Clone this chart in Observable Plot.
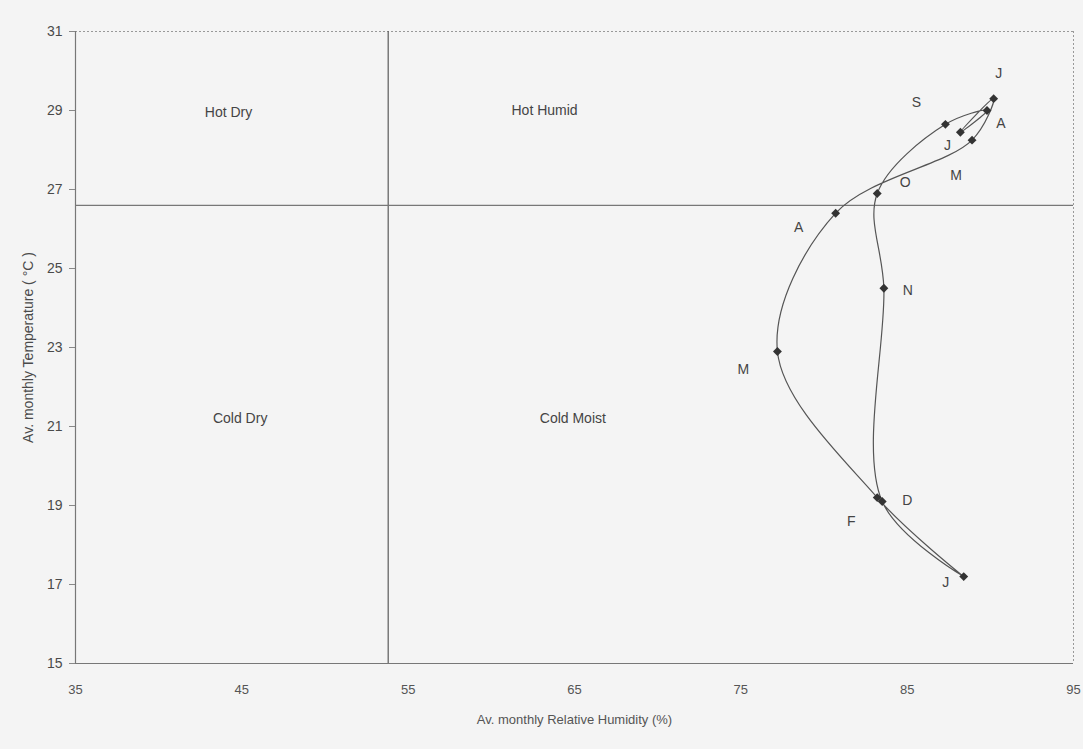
<!DOCTYPE html>
<html>
<head>
<meta charset="utf-8">
<script src="https://cdn.jsdelivr.net/npm/d3@7"></script>
<script src="https://cdn.jsdelivr.net/npm/@observablehq/plot@0.6"></script>
<style>
  html, body { margin: 0; padding: 0; background: #f4f4f4; }
  #chart svg { display: block; }
</style>
</head>
<body>
<div id="chart"></div>
<script>
// Monthly climate data (Jan..Dec)
const months = ["Jan", "Feb", "Mar", "Apr", "May", "Jun", "Jul", "Aug", "Sep", "Oct", "Nov", "Dec"];
const monthLetters = ["J", "F", "M", "A", "M", "J", "J", "A", "S", "O", "N", "D"];
const humidity = [88.4, 83.2, 77.2, 80.7, 88.9, 90.2, 88.2, 89.8, 87.3, 83.2, 83.6, 83.5];
const temperature = [17.2, 19.2, 22.9, 26.4, 28.25, 29.3, 28.45, 29.0, 28.65, 26.9, 24.5, 19.1];

// Tick values
const xTicks = [35, 45, 55, 65, 75, 85, 95];
const yTicks = [15, 17, 19, 21, 23, 25, 27, 29, 31];

// Quadrant boundaries
const humidityDivider = 53.8;
const temperatureDivider = 26.6;

// Quadrant names
const zoneNames = ["Hot Dry", "Hot Humid", "Cold Dry", "Cold Moist"];
const zoneX = [44.2, 63.2, 44.9, 64.9];
const zoneY = [28.95, 29.0, 21.2, 21.2];

// Label offsets (px) for month letters
const labelOffsets = [[-18, 6], [-26, 24], [-34, 18], [-37, 14], [-16, 35], [5, -25],
                      [-13, 13], [14, 13], [-29, -22], [28, -11], [24, 2], [25, -1]];

const points = months.map((m, i) => ({month: m, letter: monthLetters[i], rh: humidity[i], t: temperature[i]}));
const loop = [...points, points[0]];

const font = "Liberation Sans, Arial, sans-serif";
const ink = "#555";

const monthLabelMarks = points.map((p, i) => Plot.text([p], {
  x: "rh", y: "t", text: "letter",
  dx: labelOffsets[i][0], dy: labelOffsets[i][1],
  fontSize: 14, fill: "#444"
}));

const chart = Plot.plot({
  width: 1083,
  height: 749,
  marginLeft: 75,
  marginRight: 10,
  marginTop: 31,
  marginBottom: 86,
  style: {background: "#f4f4f4", fontFamily: font, color: ink},
  x: {domain: [35, 95]},
  y: {domain: [15, 31]},
  marks: [
    // frame: solid left/bottom, dotted top/right
    Plot.ruleY([31], {stroke: "#999", strokeDasharray: "2,2"}),
    Plot.ruleX([95], {stroke: "#999", strokeDasharray: "2,2"}),
    Plot.ruleX([35], {stroke: "#777", strokeWidth: 1.2}),
    Plot.ruleY([15], {stroke: "#777", strokeWidth: 1.2}),
    // quadrant dividers
    Plot.ruleX([humidityDivider], {stroke: "#666", strokeWidth: 1.3}),
    Plot.ruleY([temperatureDivider], {stroke: "#777", strokeWidth: 1.2}),
    Plot.axisX({ticks: xTicks, tickSize: 0, tickPadding: 21, fontSize: 13, fill: "#555",
      label: "Av. monthly Relative Humidity (%)", labelAnchor: "center", labelArrow: "none", labelOffset: 60}),
    Plot.axisY({ticks: yTicks, tickSize: 6, tickPadding: 7, fontSize: 14, fill: "#4a4a4a", stroke: "#888",
      label: "Av. monthly Temperature ( °C )", labelAnchor: "center", labelArrow: "none", labelOffset: 52}),
    Plot.text(zoneNames, {x: (d, i) => zoneX[i], y: (d, i) => zoneY[i], text: d => d, fontSize: 14, fill: "#444"}),
    Plot.line(loop, {x: "rh", y: "t", curve: "catmull-rom", stroke: "#555", strokeWidth: 1.2}),
    Plot.dot(points, {x: "rh", y: "t", symbol: "diamond2", r: 4, fill: "#333", stroke: "none"}),
    ...monthLabelMarks
  ]
});

document.getElementById("chart").append(chart);
</script>
</body>
</html>
